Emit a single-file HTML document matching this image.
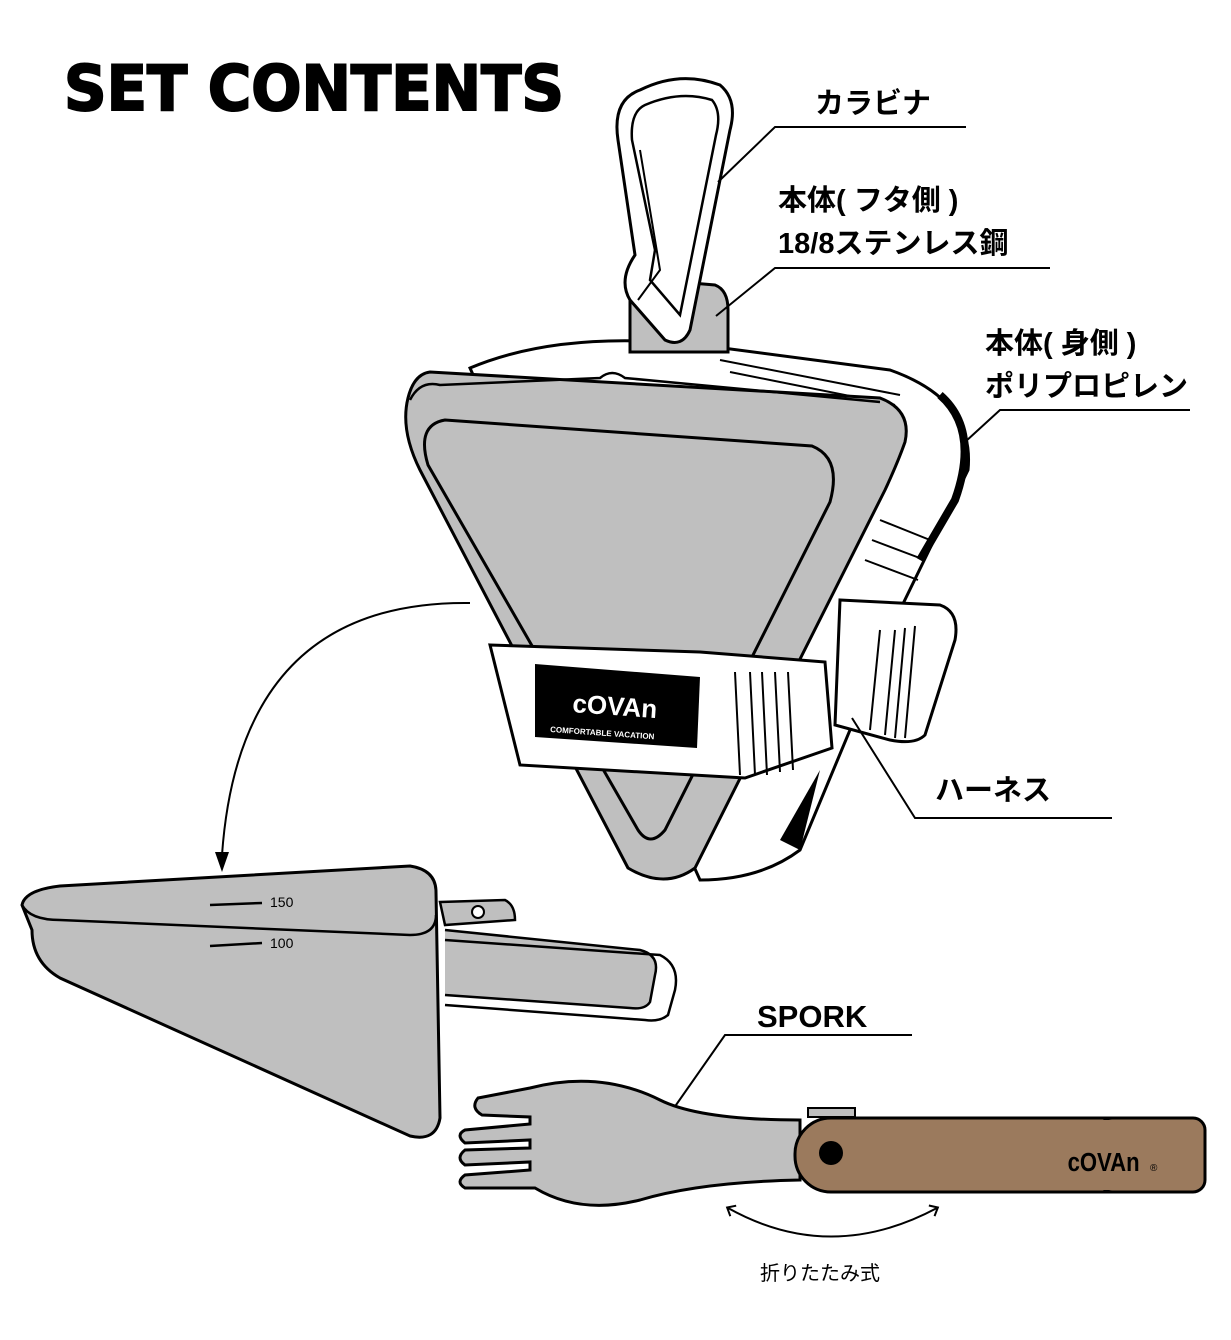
<!DOCTYPE html>
<html><head><meta charset="utf-8"><style>
html,body{margin:0;padding:0;background:#fff}
svg{display:block}
text{font-family:"Liberation Sans","Noto Sans CJK JP",sans-serif}
</style></head><body>
<svg width="1231" height="1340" viewBox="0 0 1231 1340" xmlns="http://www.w3.org/2000/svg">
<defs>
<marker id="oa" markerWidth="14" markerHeight="14" refX="7" refY="7" orient="auto-start-reverse" markerUnits="userSpaceOnUse"><path d="M1,1 L8,7 L1,13" fill="none" stroke="#000" stroke-width="2"/></marker></defs>

<text x="64" y="110" font-size="62" font-weight="900" textLength="500" lengthAdjust="spacingAndGlyphs" fill="#000" stroke="#000" stroke-width="2" style="font-family:'DejaVu Sans',sans-serif">SET CONTENTS</text>

<!-- back shell -->
<path d="M470,368 Q560,330 700,345 L890,370 Q975,400 968,470 L900,610 L800,850 Q760,880 700,880 Z" fill="#fff" stroke="#000" stroke-width="3"/>
<path d="M940,395 Q980,430 955,500 L920,560" fill="none" stroke="#000" stroke-width="8"/>
<path d="M780,840 L820,770 L800,850 Z" fill="#000"/>
<path d="M720,360 L900,395 M730,372 L895,405 M880,520 L930,540 M872,540 L925,560 M865,560 L918,580" stroke="#000" stroke-width="2" fill="none"/>
<!-- harness right -->
<path d="M840,600 L940,605 Q960,612 955,640 L925,735 Q915,745 890,740 L835,725 Z" fill="#fff" stroke="#000" stroke-width="3"/>
<path d="M880,630 L870,730 M895,630 L885,735 M905,628 L895,738 M915,626 L905,738" stroke="#000" stroke-width="2"/>

<!-- carabiner tab -->
<path d="M630,300 Q640,285 680,282 L715,285 Q728,290 728,310 L728,352 L630,352 Z" fill="#bfbfbf" stroke="#000" stroke-width="3"/>
<!-- carabiner -->
<path d="M640,90 Q680,70 720,85 Q738,100 730,130 L690,330 Q682,348 665,340 L630,300 Q618,280 635,255 L618,140 Q612,100 640,90 Z" fill="#fff" stroke="#000" stroke-width="3"/>
<path d="M645,105 Q680,90 712,100 Q722,112 716,135 L680,315 L650,280 L655,250 L632,140 Q630,112 645,105 Z" fill="none" stroke="#000" stroke-width="2.5"/>
<path d="M640,150 L660,270 L638,300" fill="none" stroke="#000" stroke-width="2"/>

<!-- front lid -->
<path d="M430,372 L880,398 Q912,410 905,442 Q898,462 885,490 L695,868 Q665,890 628,868 L420,470 Q400,430 408,398 Q414,374 430,372 Z" fill="#bfbfbf" stroke="#000" stroke-width="3"/>
<path d="M445,420 L812,446 Q842,458 830,502 L665,830 Q650,848 638,830 L428,465 Q416,425 445,420 Z" fill="#bfbfbf" stroke="#000" stroke-width="3"/>
<path d="M410,400 Q420,380 440,385 L600,378 Q612,368 625,378 L880,402" fill="none" stroke="#000" stroke-width="2.5"/>
<!-- strap -->
<path d="M490,645 L700,652 L825,662 L832,748 L745,778 L520,765 Z" fill="#fff" stroke="#000" stroke-width="3"/>
<path d="M735,672 L740,775 M750,672 L755,775 M762,672 L767,775 M775,672 L780,772 M788,672 L793,770" stroke="#000" stroke-width="2"/>
<path d="M535,664 L700,677 L697,748 L535,737 Z" fill="#000"/>
<text x="572" y="712" font-size="26" font-weight="700" fill="#fff" transform="rotate(4 570 712)">cOVAn</text>
<text x="550" y="732" font-size="8" font-weight="700" fill="#fff" transform="rotate(4 550 732)">COMFORTABLE VACATION</text>

<!-- labels -->
<g font-weight="700" font-size="29" fill="#000">
<text x="815" y="113">カラビナ</text>
<text x="778" y="210">本体( フタ側 )</text>
<text x="778" y="253">18/8ステンレス鋼</text>
<text x="985" y="353">本体( 身側 )</text>
<text x="985" y="396">ポリプロピレン</text>
<text x="935" y="800">ハーネス</text>
<text x="757" y="1027" font-size="31">SPORK</text>
</g>
<g stroke="#000" stroke-width="2" fill="none">
<path d="M718,182 L775,127 L966,127"/>
<path d="M716,316 L775,268 L1050,268"/>
<path d="M965,442 L1000,410 L1190,410"/>
<path d="M852,718 L915,818 L1112,818"/>
<path d="M655,1135 L725,1035 L912,1035"/>
<path d="M470,603 Q240,600 222,855"/>
<path d="M728,1208 Q830,1265 937,1208" marker-start="url(#oa)" marker-end="url(#oa)"/>
</g>
<polygon points="215,852 229,852 222,872" fill="#000"/>
<text x="760" y="1280" font-size="20" fill="#000">折りたたみ式</text>

<!-- cup handle -->
<path d="M440,902 L505,900 Q515,905 515,920 L445,925 Z" fill="#bfbfbf" stroke="#000" stroke-width="2.5"/>
<circle cx="478" cy="912" r="6" fill="#fff" stroke="#000" stroke-width="2"/>
<path d="M445,930 L640,950 Q660,955 655,975 L650,1002 Q645,1010 630,1008 L445,995" fill="#bfbfbf" stroke="#000" stroke-width="2.5"/>
<path d="M445,940 L660,955 Q680,965 675,990 L668,1015 Q660,1022 645,1020 L445,1005" fill="none" stroke="#000" stroke-width="2.5"/>
<!-- cup -->
<path d="M22,905 Q25,890 60,886 L410,866 Q436,870 436,892 L440,1118 Q436,1142 410,1136 L60,978 Q32,962 32,930 Z" fill="#bfbfbf" stroke="#000" stroke-width="3"/>
<path d="M22,905 Q30,920 60,920 L410,935 Q436,935 436,915" fill="none" stroke="#000" stroke-width="2.5"/>
<path d="M210,905 L262,903 M210,946 L262,943" stroke="#000" stroke-width="2.5"/>
<text x="270" y="907" font-size="14" fill="#000">150</text>
<text x="270" y="948" font-size="14" fill="#000">100</text>

<!-- spork -->
<path d="M808,1117 L808,1108 L855,1108 L855,1117 Z" fill="#bfbfbf" stroke="#000" stroke-width="2"/>
<path d="M530,1088 Q600,1070 660,1100 Q700,1120 800,1120 L800,1180 Q700,1182 640,1200 Q580,1215 535,1188 L465,1188 Q455,1182 465,1175 L530,1170 L530,1162 L465,1165 Q455,1158 465,1150 L530,1148 L530,1140 L465,1143 Q455,1135 465,1130 L530,1124 L530,1117 L482,1115 Q470,1108 478,1098 Z" fill="#bfbfbf" stroke="#000" stroke-width="3"/>
<rect x="795" y="1118" width="410" height="74" rx="36" ry="36" fill="#9b7a5d" stroke="#000" stroke-width="3"/>
<rect x="1100" y="1118" width="105" height="74" rx="12" fill="#9b7a5d" stroke="#000" stroke-width="3"/>
<rect x="1090" y="1120" width="20" height="70" fill="#9b7a5d"/>
<circle cx="831" cy="1153" r="12" fill="#000"/>
<text x="1068" y="1171" font-size="26" font-weight="700" fill="#000" transform="scale(0.85 1) translate(188 0)">cOVAn</text>
<text x="1150" y="1171" font-size="10" fill="#000">®</text>
</svg>
</body></html>
